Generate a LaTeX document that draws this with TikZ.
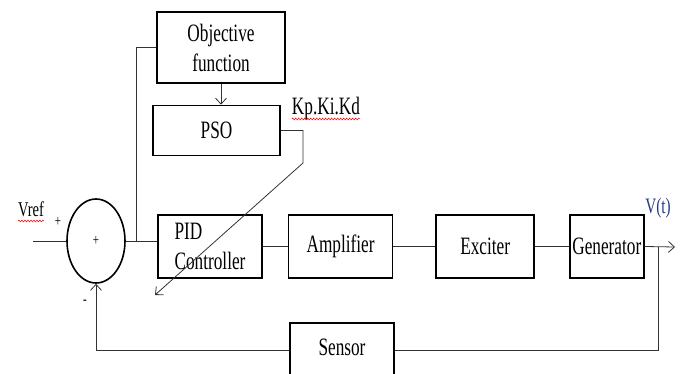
\documentclass[tikz,border=0pt]{standalone}
\usepackage{fontspec}
\setmainfont{Liberation Serif}[FakeStretch=0.69]
\usepackage{tikz}
\usetikzlibrary{positioning, arrows.meta, shapes.geometric, decorations.pathmorphing}
\definecolor{vblue}{RGB}{35,55,135}
\tikzset{
  block/.style={
    draw,
    rectangle,
    line width=1.6pt,
    inner sep=0pt,
    minimum height=63pt,
    align=center,
    font=\fontsize{25}{30}\selectfont
  },
  sumnode/.style={
    draw,
    ellipse,
    line width=1.6pt,
    minimum width=58pt,
    minimum height=84pt,
    inner sep=0pt,
    font=\fontsize{16}{18}\selectfont
  },
  link/.style={
    draw=black!80,
    line width=0.8pt
  },
  tip/.style={
    -{Straight Barb[length=6pt, width=11pt]}
  },
  lbl/.style={
    inner sep=0pt,
    font=\fontsize{25}{30}\selectfont
  },
  spell/.style={
    draw=red,
    line width=0.5pt,
    decorate,
    decoration={snake, amplitude=0.9pt, segment length=3pt}
  }
}
\begin{document}
\begin{tikzpicture}[x=1pt, y=-1pt]
    \clip (0,0) rectangle (685,374);
    % upper branch
    \node[block, minimum width=128pt, minimum height=71pt] (obj) at (221,47.5) {Objective\\function};
    \node[block, minimum width=127pt, minimum height=50pt] (pso) at (216.5,130.5) {PSO};
    % forward path
    \node[sumnode] (sum) at (96,241) {+};
    \node[block, minimum width=104pt, align=left] (pid) at (210,246.5) {PID\\Controller};
    \node[block, minimum width=104pt, right=25pt of pid] (amp) {Amplifier};
    \node[block, minimum width=98pt, right=42pt of amp] (exc) {Exciter};
    \node[block, minimum width=74pt, right=34pt of exc] (gen) {Generator};
    \node[block, minimum width=104pt, minimum height=54pt] (sensor) at (342,350) {\raisebox{5pt}{Sensor}};

    % labels
    \node[lbl, font=\fontsize{21}{24}\selectfont, anchor=base] (vref) at (31,217) {Vref};
    \node[lbl, anchor=base] (kgain) at (326,115) {Kp.Ki.Kd};
    \node[lbl, text=vblue, font=\fontsize{22}{26}\selectfont, anchor=base] (vt) at (658,213) {V(t)};
    \node[lbl, font=\fontsize{16}{18}\selectfont] (plus) at (58,222) {+};
    \node[lbl, font=\fontsize{16}{18}\selectfont] (minus) at (85,302) {-};
    \draw[spell] ([yshift=-4pt]vref.base west) -- ([yshift=-4pt]vref.base east);
    \draw[spell] ([yshift=-4pt]kgain.base west) -- ([yshift=-4pt]kgain.base east);

    \coordinate (vin) at (33,241);
    \coordinate (tap) at (136,241);
    \coordinate (kbend) at (303,163);
    \coordinate (ktip) at (155,295);
    \coordinate (vout) at (675,247);
    \coordinate (fbtap) at (658,247);

    \draw[link] (vin) -- (sum.west);
    \draw[link] (sum.east) -- (sum.east -| pid.west);
    \draw[link] (tap) |- (obj.west);
    \draw[link, tip] (obj.south) -- (obj.south |- pso.north);
    \draw[link, tip] (pso.east) -| (kbend) -- (ktip);
    \draw[link] (pid.east) -- (amp.west);
    \draw[link] (amp.east) -- (exc.west);
    \draw[link] (exc.east) -- (gen.west);
    \draw[link, tip] (gen.east) -- (vout);
    \draw[link] (fbtap) |- (sensor.east);
    \draw[link, tip] (sensor.west) -| (sum.south);
\end{tikzpicture}
\end{document}
